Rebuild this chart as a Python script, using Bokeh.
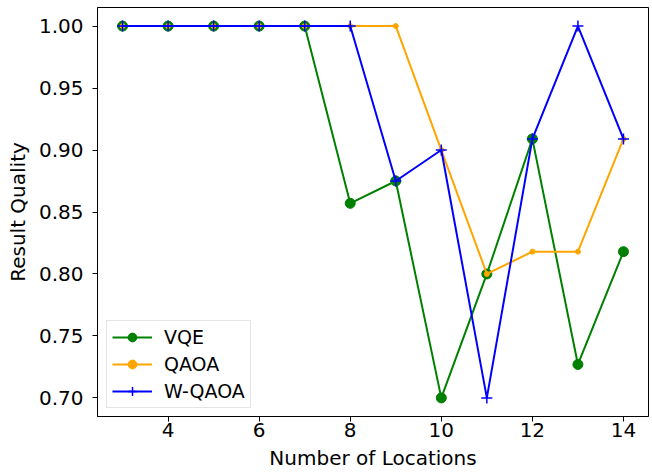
from bokeh.plotting import figure
from bokeh.models import Range1d, FixedTicker, Legend, LegendItem, NumeralTickFormatter
from bokeh.embed import file_html
from bokeh.resources import INLINE

locations = [3, 4, 5, 6, 7, 8, 9, 10, 11, 12, 13, 14]
vqe = [1.0, 1.0, 1.0, 1.0, 1.0, 0.857, 0.875, 0.700, 0.800, 0.909, 0.727, 0.818]
qaoa = [1.0, 1.0, 1.0, 1.0, 1.0, 1.0, 1.0, 0.900, 0.800, 0.818, 0.818, 0.909]
wqaoa = [1.0, 1.0, 1.0, 1.0, 1.0, 1.0, 0.875, 0.900, 0.700, 0.909, 1.0, 0.909]
x_ticks = [4, 6, 8, 10, 12, 14]
y_ticks = [0.70, 0.75, 0.80, 0.85, 0.90, 0.95, 1.00]

FONT = "DejaVu Sans"

p = figure(width=652, height=474, output_backend="svg", toolbar_location=None,
           x_range=Range1d(2.45, 14.55), y_range=Range1d(0.685, 1.015),
           min_border_left=97, min_border_right=4, min_border_top=7, min_border_bottom=58)
p.xgrid.visible = False
p.ygrid.visible = False
p.outline_line_color = "black"
p.outline_line_width = 1
p.outline_line_alpha = 1

for ax in (p.xaxis[0], p.yaxis[0]):
    ax.major_label_text_font = FONT
    ax.major_label_text_font_size = "20px"
    ax.major_label_text_color = "black"
    ax.axis_label_text_font = FONT
    ax.axis_label_text_font_size = "20px"
    ax.axis_label_text_font_style = "normal"
    ax.axis_label_text_color = "black"
    ax.axis_line_color = "black"
    ax.major_tick_line_color = "black"
    ax.major_tick_out = 5
    ax.major_tick_in = 0
    ax.minor_tick_line_color = None

p.xaxis.ticker = FixedTicker(ticks=x_ticks)
p.yaxis.ticker = FixedTicker(ticks=y_ticks)
p.yaxis.formatter = NumeralTickFormatter(format="0.00")
p.xaxis.axis_label = "Number of Locations"
p.yaxis.axis_label = "Result Quality"
p.xaxis.major_label_standoff = 1
p.yaxis.major_label_standoff = 9
p.xaxis.axis_label_standoff = 6
p.yaxis.axis_label_standoff = 6

l1 = p.line(locations, vqe, line_color="green", line_width=2)
s1 = p.scatter(locations, vqe, marker="circle", size=10, fill_color="green", line_color="green")
l2 = p.line(locations, qaoa, line_color="orange", line_width=2)
s2 = p.scatter(locations, qaoa, marker="circle", size=5, fill_color="orange", line_color="orange")
l3 = p.line(locations, wqaoa, line_color="blue", line_width=2)
s3 = p.scatter(locations, wqaoa, marker="cross", size=11, line_color="blue", line_width=1.5)

legend = Legend(items=[LegendItem(label="VQE", renderers=[l1, s1]),
                       LegendItem(label="QAOA", renderers=[l2, s2]),
                       LegendItem(label="W-QAOA", renderers=[l3, s3])],
                location=(9, 8))
legend.label_text_font = FONT
legend.label_text_font_size = "19px"
legend.label_text_color = "black"
legend.glyph_width = 40
legend.glyph_height = 22
legend.label_height = 22
legend.label_standoff = 12
legend.spacing = 5
legend.padding = 5
legend.margin = 0
legend.border_line_color = "#cccccc"
legend.border_line_width = 1
legend.background_fill_alpha = 0.8
p.add_layout(legend, "center")

open("out.html", "w").write(file_html(p, INLINE))
